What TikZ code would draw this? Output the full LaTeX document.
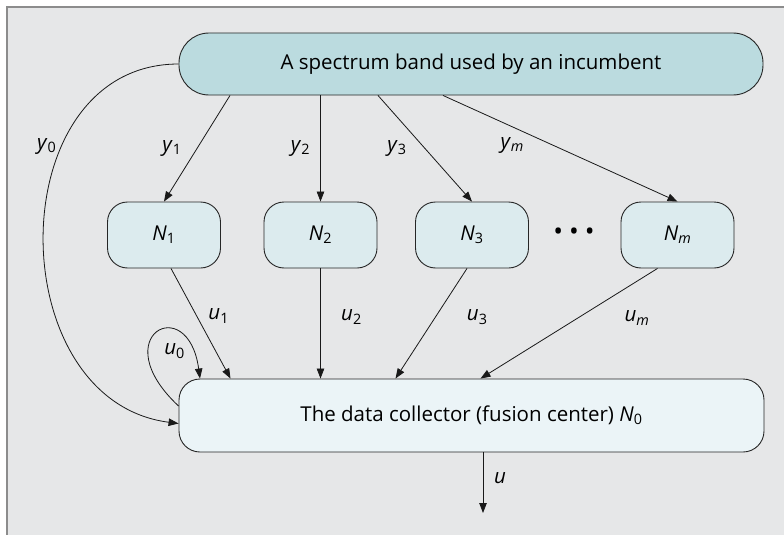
\documentclass[tikz,border=0pt]{standalone}
\usepackage{fontspec}
\setmainfont{Open Sans}
\usetikzlibrary{arrows.meta}
\definecolor{framegray}{RGB}{140,140,140}
\definecolor{backgray}{RGB}{230,231,232}
\definecolor{bandfill}{RGB}{187,219,223}
\definecolor{sensorfill}{RGB}{220,235,238}
\definecolor{fusionfill}{RGB}{235,244,247}
\tikzstyle{box}=[draw=black!85, line width=.9pt, inner sep=0pt]
\tikzstyle{band}=[box, fill=bandfill, minimum width=584pt, minimum height=62pt, rounded corners=30pt]
\tikzstyle{sensor}=[box, fill=sensorfill, minimum width=113pt, minimum height=66pt, rounded corners=20pt]
\tikzstyle{fusion}=[box, fill=fusionfill, minimum width=585pt, minimum height=73pt, rounded corners=21pt]
\tikzset{link/.style={-{Triangle[length=10pt,width=7.5pt]}, line width=.8pt, black!90}}
\tikzset{lbl/.style={inner sep=0pt, text=black}}
\newcommand{\var}[2]{\textit{#1}\textsubscript{#2}}

\begin{document}
\begin{tikzpicture}[x=1pt, y=-1pt, font=\fontsize{20.5}{24}\selectfont]
  \useasboundingbox (0,0) rectangle (784,535);
  \fill[backgray] (7,7) rectangle (784,535);
  \draw[framegray, line width=2pt] (7,535) -- (7,7) -- (784,7);

  \node[band] (band) at (471,64) {A spectrum band used by an incumbent};
  \node[sensor] (N1) at (164,235) {\var{N}{1}};
  \node[sensor] (N2) at (320.5,235) {\var{N}{2}};
  \node[sensor] (N3) at (472,235) {\var{N}{3}};
  \node[sensor] (Nm) at (677.5,235) {\var{N}{\textit{m}}};
  \node[lbl, font=\fontsize{26}{28}\selectfont] (dots) at (574,234) {\textbullet\hspace{6pt}\textbullet\hspace{6pt}\textbullet};
  \node[fusion] (fusion) at (471.5,415.5) {The data collector (fusion center) \var{N}{0}};
  \coordinate (out) at (483,513);

  %% Observations
  \draw[link] ([xshift=-241pt]band.south) -- (N1.north) node[lbl, midway, xshift=-25pt] {\var{y}{1}};
  \draw[link] (band.south -| N2.north) -- (N2.north) node[lbl, midway, xshift=-20pt] {\var{y}{2}};
  \draw[link] ([xshift=-93pt]band.south) -- (N3.north) node[lbl, midway, xshift=-28pt] {\var{y}{3}};
  \draw[link] ([xshift=-28pt]band.south) -- (Nm.north) node[lbl, midway, xshift=-48pt, yshift=3.5pt] {\var{y}{\textit{m}}};
  \draw[link] (band.west) .. controls +(-179,0) and +(-179,-23) .. ([yshift=-8pt]fusion.west)
    node[lbl, pos=0.32, xshift=-15pt] {\var{y}{0}};

  %% Decisions
  \draw[link] ([xshift=7pt]N1.south) -- ([xshift=-241pt]fusion.north) node[lbl, midway, xshift=18pt, yshift=7.5pt] {\var{u}{1}};
  \draw[link] (N2.south) -- (N2.south |- fusion.north) node[lbl, midway, xshift=31pt, yshift=6.5pt] {\var{u}{2}};
  \draw[link] ([xshift=-5pt]N3.south) -- ([xshift=-76pt]fusion.north) node[lbl, midway, xshift=46pt, yshift=6.5pt] {\var{u}{3}};
  \draw[link] ([xshift=-20pt]Nm.south) -- ([xshift=9pt]fusion.north) node[lbl, midway, xshift=68pt, yshift=5.5pt] {\var{u}{\textit{m}}};
  \draw[link] ([yshift=9.5pt]fusion.west) .. controls +(-75,-70) and +(-12,-88) .. ([xshift=-271.5pt]fusion.north)
    node[lbl, pos=0.5, xshift=18pt, yshift=-18pt] {\var{u}{0}};

  %% Output
  \draw[link] (fusion.south -| out) -- (out) node[lbl, midway, xshift=17pt, yshift=4.5pt] {\textit{u}};
\end{tikzpicture}
\end{document}
